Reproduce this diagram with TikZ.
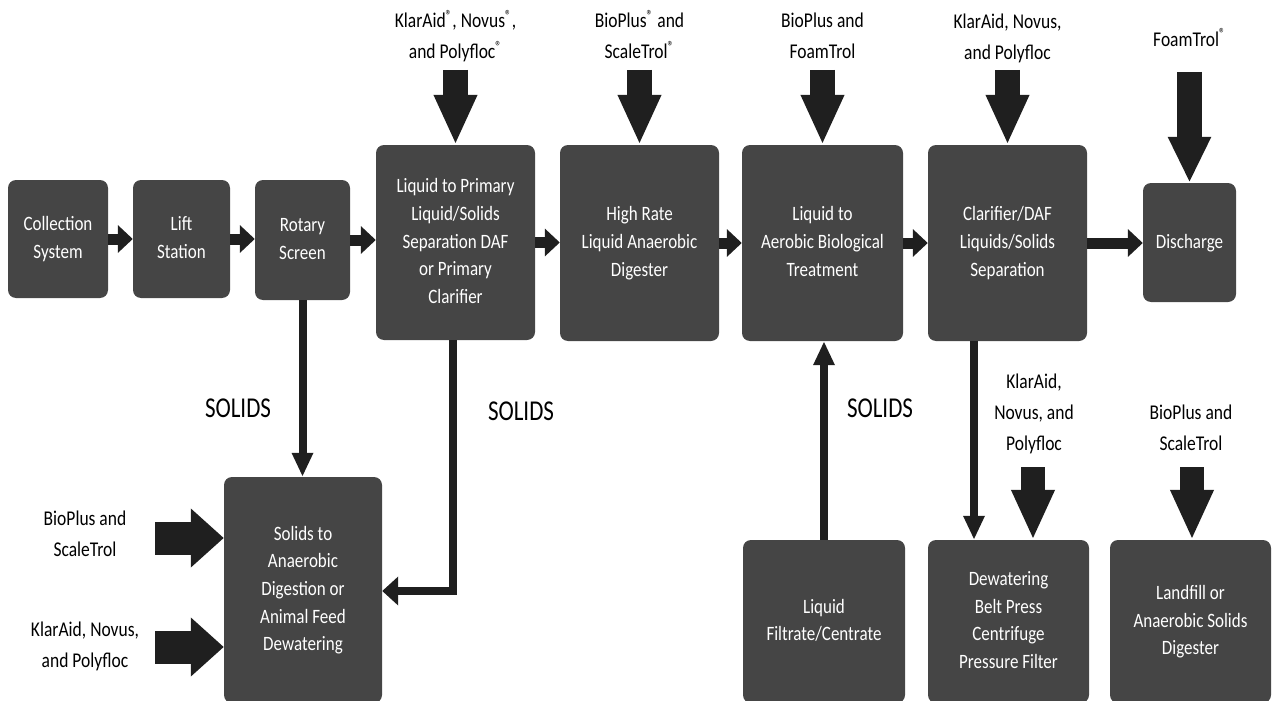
\documentclass[tikz,border=0pt]{standalone}
\usepackage{fontspec}
\setmainfont{Carlito}
\usepackage{graphicx}
\usetikzlibrary{arrows.meta}
\definecolor{boxgray}{gray}{0.27}
\definecolor{arrgray}{gray}{0.12}
\newcommand{\stx}[2][1.2]{\scalebox{1}[#1]{\begin{tabular}{@{}c@{}}#2\end{tabular}}}
\newcommand{\rr}{\textsuperscript{®}}
\begin{document}
\begin{tikzpicture}[x=1pt,y=-1pt,
  box/.style={fill=boxgray, rounded corners=8pt, text=white, inner sep=0pt,
    font=\fontsize{17}{23}\selectfont},
  lab/.style={text=black, inner sep=0pt, font=\fontsize{17.5}{26}\selectfont},
  solidslab/.style={text=black, inner sep=0pt, font=\fontsize{23}{28}\selectfont},
  smallarr/.style={draw=arrgray, line width=11pt, -{Triangle[width=27pt,length=15pt]}},
  thinarr/.style={draw=arrgray, line width=8pt, -{Triangle[width=20pt,length=24pt]}},
  bigarr/.style={draw=arrgray, line width=25pt, -{Triangle[width=40pt,length=50pt]}},
  sidearr/.style={draw=arrgray, line width=33pt, -{Triangle[width=57pt,length=33pt]}}
]
\useasboundingbox (0,0) rectangle (1278,701);

% top row boxes
\node[box, minimum width=100pt, minimum height=118pt] (coll) at (58,239) {\stx{Collection\\System}};
\node[box, minimum width=97pt, minimum height=118pt] (lift) at (181.5,239) {\stx{Lift\\Station}};
\node[box, minimum width=95pt, minimum height=120pt] (rot) at (302.5,240) {\stx{Rotary\\Screen}};
\node[box, minimum width=159pt, minimum height=195pt] (prim) at (455.5,242.5) {\stx{Liquid to Primary\\Liquid/Solids\\Separation DAF\\or Primary\\Clarifier}};
\node[box, minimum width=159pt, minimum height=196pt] (high) at (639.5,243) {\stx{High Rate\\Liquid Anaerobic\\Digester}};
\node[box, minimum width=161pt, minimum height=196pt] (aer) at (822.5,243) {\stx{Liquid to\\Aerobic Biological\\Treatment}};
\node[box, minimum width=159pt, minimum height=196pt] (clar) at (1007.5,243) {\stx{Clarifier/DAF\\Liquids/Solids\\Separation}};
\node[box, minimum width=93pt, minimum height=119pt] (dis) at (1189.5,242.5) {\stx{Discharge}};

% bottom row boxes
\node[box, minimum width=158pt, minimum height=226pt] (sol) at (303,590) {\stx{Solids to\\Anaerobic\\Digestion or\\Animal Feed\\Dewatering}};
\node[box, minimum width=162pt, minimum height=163pt] (filt) at (824,621.5) {\stx{Liquid\\Filtrate/Centrate}};
\node[box, minimum width=161pt, minimum height=163pt] (dew) at (1008.5,621.5) {\stx{Dewatering\\Belt Press\\Centrifuge\\Pressure Filter}};
\node[box, minimum width=161pt, minimum height=163pt] (land) at (1190.5,621.5) {\stx{Landfill or\\Anaerobic Solids\\Digester}};

% reagent labels
\node[lab] (l1) at (455.5,37) {\stx{KlarAid\rr, Novus\rr,\\and Polyfloc\rr}};
\node[lab] (l2) at (639.5,37) {\stx{BioPlus\rr{} and\\ScaleTrol\rr}};
\node[lab] (l3) at (822.5,37) {\stx{BioPlus and\\FoamTrol}};
\node[lab] (l4) at (1007.5,38) {\stx{KlarAid, Novus,\\and Polyfloc}};
\node[lab] (l5) at (1189.5,40) {\stx{FoamTrol\rr}};
\node[lab] (l6) at (85,535) {\stx{BioPlus and\\ScaleTrol}};
\node[lab] (l7) at (85,646) {\stx{KlarAid, Novus,\\and Polyfloc}};
\node[lab] (l8) at (1034,413) {\stx{KlarAid,\\Novus, and\\Polyfloc}};
\node[lab] (l9) at (1191,429) {\stx{BioPlus and\\ScaleTrol}};

\node[solidslab] (s1) at (238,410) {\stx[1.25]{SOLIDS}};
\node[solidslab] (s2) at (521,413) {\stx[1.25]{SOLIDS}};
\node[solidslab] (s3) at (880,410) {\stx[1.25]{SOLIDS}};

% main flow small arrows
\draw[smallarr] (coll.east) -- (lift.west);
\draw[smallarr] (lift.east) -- (lift.east -| rot.west);
\draw[smallarr] (rot.east) -- (rot.east -| prim.west);
\draw[smallarr] (prim.east) -- (prim.east -| high.west);
\draw[smallarr] (high.east) -- (aer.west);
\draw[smallarr] (aer.east) -- (clar.west);
\draw[smallarr] (clar.east) -- (clar.east -| dis.west);

% reagent arrows (top)
\coordinate (t1) at (455.5,70);
\coordinate (t2) at (639.5,70);
\coordinate (t3) at (822.5,70);
\coordinate (t4) at (1007.5,70);
\coordinate (t5) at (1189.5,72);
\draw[bigarr] (t1) -- (prim.north);
\draw[bigarr] (t2) -- (high.north);
\draw[bigarr] (t3) -- (aer.north);
\draw[bigarr] (t4) -- (clar.north);
\draw[draw=arrgray, line width=25pt, -{Triangle[width=40pt,length=46pt]}] (t5) -- (dis.north);

% reagent arrows (bottom)
\coordinate (t8) at (1033,467);
\coordinate (t9) at (1192,467);
\draw[draw=arrgray, line width=24pt, -{Triangle[width=40pt,length=50pt]}] (t8) -- (t8 |- dew.north);
\draw[draw=arrgray, line width=24pt, -{Triangle[width=40pt,length=50pt]}] (t9) -- (t9 |- land.north);

\coordinate (t6) at (155,538);
\coordinate (t7) at (155,647);
\draw[sidearr] (t6) -- (t6 -| sol.west);
\draw[sidearr] (t7) -- (t7 -| sol.west);

% solids lines
\draw[thinarr] (rot.south) -- (rot.south |- sol.north);
\coordinate (bend) at (453,591);
\draw[draw=arrgray, line width=8pt, -{Triangle[width=28pt,length=16pt]}] (prim.south -| bend) -- (bend) -- (bend -| sol.east);
\draw[thinarr] (filt.north) -- (filt.north |- aer.south);
\coordinate (cd) at (974,0);
\draw[thinarr] (clar.south -| cd) -- (dew.north -| cd);
\end{tikzpicture}
\end{document}
